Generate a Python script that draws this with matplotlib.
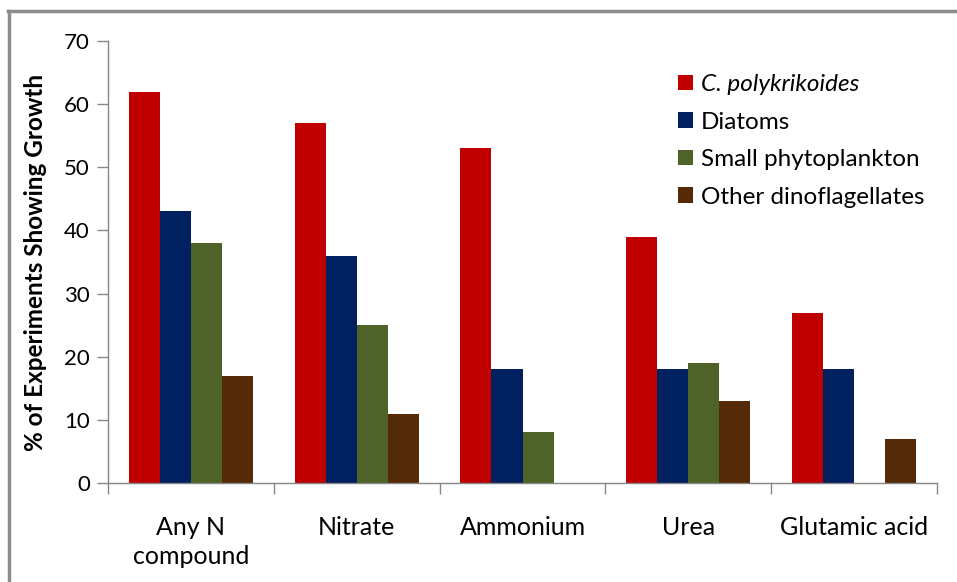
import matplotlib
matplotlib.use("Agg")
import matplotlib.pyplot as plt
from matplotlib.lines import Line2D
import numpy as np

categories = ["Any N\ncompound", "Nitrate", "Ammonium", "Urea", "Glutamic acid"]
series_names = ["C. polykrikoides", "Diatoms", "Small phytoplankton", "Other dinoflagellates"]
c_polykrikoides = [62, 57, 53, 39, 27]
diatoms = [43, 36, 18, 18, 18]
small_phyto = [38, 25, 8, 19, 0]
other_dino = [17, 11, 0, 13, 7]
yticks = [0, 10, 20, 30, 40, 50, 60, 70]

colors = ["#C00000", "#002060", "#4F6228", "#552A08"]
series = [c_polykrikoides, diatoms, small_phyto, other_dino]

plt.rcParams['font.family'] = ['Lato', 'DejaVu Sans']

fig = plt.figure(figsize=(9.57, 5.82), dpi=100)
ax = fig.add_axes([108/957, 1-483/582, (937-108)/957, (483-41)/582])

x = np.arange(len(categories))
w = 0.187
for i, (vals, col, name) in enumerate(zip(series, colors, series_names)):
    ax.bar(x + (i - 1.5) * w, vals, width=w, color=col, label=name, linewidth=0)

ax.set_xlim(-0.5, len(categories) - 0.5)
ax.set_ylim(0, 70)
ax.set_yticks(yticks)
ax.tick_params(axis='y', labelsize=16, length=8, width=1, color='#868686', pad=5, labelcolor='#000000')
ax.set_xticks(x)
ax.set_xticklabels(categories, fontsize=18, linespacing=1.3)
ax.tick_params(axis='x', length=0, pad=24)
# category boundary ticks
ax.set_xticks(np.arange(-0.5, len(categories) + 0.5, 1), minor=True)
ax.tick_params(axis='x', which='minor', length=8, width=1, color='#868686')

for s in ['top', 'right']:
    ax.spines[s].set_visible(False)
for s in ['left', 'bottom']:
    ax.spines[s].set_color('#868686')
    ax.spines[s].set_linewidth(1)

ax.set_ylabel("% of Experiments Showing Growth", fontsize=17.5, fontweight='bold', labelpad=12.5)

leg = ax.legend(loc='upper left', bbox_to_anchor=((678-108)/829, (483-74)/442), frameon=False,
                fontsize=17.5, handlelength=0.6, handleheight=0.6, handletextpad=0.35,
                labelspacing=0.68, borderpad=0, borderaxespad=0)
leg.get_texts()[0].set_style('italic')

# outer frame lines (top and left)
fig.add_artist(Line2D([8/957, 1], [1-11/582, 1-11/582], color='#8c8c8c', linewidth=2.5, transform=fig.transFigure))
fig.add_artist(Line2D([9/957, 9/957], [0, 1-11/582], color='#8c8c8c', linewidth=2.5, transform=fig.transFigure))

fig.savefig("out.png", dpi=100)
